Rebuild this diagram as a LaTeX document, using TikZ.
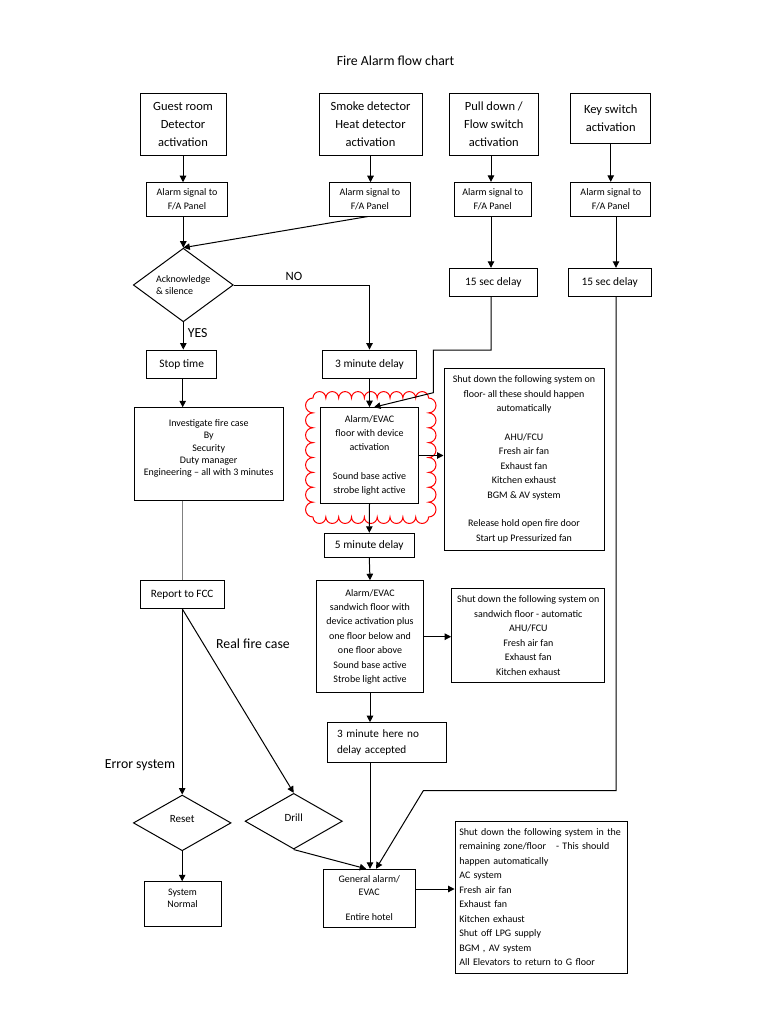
\documentclass[tikz,border=0pt]{standalone}
\usepackage{fontspec}
\setmainfont{Carlito}
\usetikzlibrary{arrows.meta,shapes.geometric}
\newcommand\fsTop{\fontsize{12.5}{18}\selectfont}
\newcommand\fsMid{\fontsize{11.4}{15.6}\selectfont}
\newcommand\fsBig{\fontsize{13.8}{16}\selectfont}
\tikzset{
  box/.style={draw, line width=1pt, inner sep=0pt, align=center},
  dia/.style={draw, diamond, line width=1pt, inner sep=0pt, align=center},
  arr/.style={line width=1pt, -{Triangle[length=6.5pt,width=6.5pt]}},
  ln/.style={line width=1pt},
  sm/.style={font=\fontsize{10}{#1}\selectfont},
  sm/.default=14.4
}
\begin{document}
\begin{tikzpicture}[x=1pt,y=1pt]
\fill[white] (0,0) rectangle (768,-1024);
\useasboundingbox (0,0) rectangle (768,-1024);

% title and labels
\node[font=\fsBig] (title) at (395.6,-60.7) {Fire Alarm flow chart};
\node[font=\fontsize{12.7}{15}\selectfont] (lno) at (294,-276) {NO};
\node[font=\fsBig] (lyes) at (197.7,-332.7) {YES};
\node[font=\fsBig] (lreal) at (253,-644) {Real fire case};
\node[font=\fsBig] (lerr) at (140,-765) {Error system};

% cloud
\draw[red, line width=1pt] (313,-398)
  \foreach \i in {1,...,9} { arc(180:0:6.42pt) }
  \foreach \i in {1,...,8} { arc(90:-90:7.44pt) }
  \foreach \i in {1,...,9} { arc(0:-180:6.42pt) }
  \foreach \i in {1,...,8} { arc(270:90:7.44pt) } -- cycle;

% top boxes
\node[box, font=\fsTop, minimum width=86pt, minimum height=62pt] (g1) at (183,-124.3) {Guest room\\Detector\\activation};
\node[box, font=\fsTop, minimum width=103pt, minimum height=62pt] (g2) at (370.5,-124.3) {Smoke detector\\Heat detector\\activation};
\node[box, font=\fsTop, minimum width=89pt, minimum height=61.7pt] (g3) at (493.8,-124.2) {Pull down /\\Flow switch\\activation};
\node[box, font=\fsTop, minimum width=80pt, minimum height=50pt] (g4) at (610.7,-118.3) {Key switch\\activation};

% alarm signal boxes
\node[box, sm=13.7, minimum width=80.6pt, minimum height=33.3pt] (a1) at (187,-199.4) {Alarm signal to\\F/A Panel};
\node[box, sm=13.7, minimum width=81.7pt, minimum height=33.3pt] (a2) at (369.9,-199.4) {Alarm signal to\\F/A Panel};
\node[box, sm=13.7, minimum width=76.7pt, minimum height=33.7pt] (a3) at (492.7,-199.2) {Alarm signal to\\F/A Panel};
\node[box, sm=13.7, minimum width=80.3pt, minimum height=33.7pt] (a4) at (610.8,-199.2) {Alarm signal to\\F/A Panel};

% decision
\node[dia, sm=12.3, align=left, minimum width=100pt, minimum height=56pt] (ack) at (183.3,-285) {Acknowledge\\\& silence};

% delays
\node[box, font=\fsMid, minimum width=88pt, minimum height=28.4pt] (d15a) at (493.3,-282.5) {15 sec delay};
\node[box, font=\fsMid, minimum width=82.7pt, minimum height=28.4pt] (d15b) at (609.7,-282.5) {15 sec delay};
\node[box, font=\fsMid, minimum width=70pt, minimum height=28.3pt] (stop) at (181.7,-364.2) {Stop time};
\node[box, font=\fsMid, minimum width=94.4pt, minimum height=28.3pt] (d3) at (369.5,-364.2) {3 minute delay};

% investigate
\node[box, sm=12.3, minimum width=149.3pt, minimum height=92.3pt] (inv) at (208.7,-453.9) {Investigate fire case\\By\\Security\\Duty manager\\Engineering -- all with 3 minutes\\\mbox{}};

% alarm/evac floor
\node[box, sm=14.3, minimum width=97.6pt, minimum height=95.6pt] (evac) at (369.5,-455.5) {Alarm/EVAC\\floor with device\\activation\\\mbox{}\\Sound base active\\strobe light active};

\node[box, sm=14.4, minimum width=160pt, minimum height=182.4pt] (sd1) at (524,-459.5) {Shut down the following system on\\floor- all these should happen\\automatically\\\mbox{}\\AHU/FCU\\Fresh air fan\\Exhaust fan\\Kitchen exhaust\\BGM \& AV system\\\mbox{}\\Release hold open fire door\\Start up Pressurized fan};

\node[box, font=\fsMid, minimum width=90pt, minimum height=24.4pt] (d5) at (369.3,-545.5) {5 minute delay};

\node[box, sm=14.4, minimum width=106.6pt, minimum height=112pt] (sw) at (370,-636.7) {Alarm/EVAC\\sandwich floor with\\device activation plus\\one floor below and\\one floor above\\Sound base active\\Strobe light active};

\node[box, sm=14.5, minimum width=153.3pt, minimum height=93.7pt] (sd2) at (528.3,-635.8) {Shut down the following system on\\sandwich floor - automatic\\AHU/FCU\\Fresh air fan\\Exhaust fan\\Kitchen exhaust};

\node[box, font=\fontsize{11.2}{14}\selectfont, minimum width=84.3pt, minimum height=27.6pt] (report) at (182.2,-594.5) {Report to FCC};

\node[box, font=\fontsize{11.2}{15.6}\selectfont, align=left, inner xsep=9.5pt, text width=100pt, minimum height=40pt] (d3h) at (387,-742.7) {3 minute here no\\delay accepted};

% bottom
\node[dia, font=\fontsize{11}{13}\selectfont, minimum width=97.7pt, minimum height=55.7pt] (reset) at (182.2,-822.9) {\raisebox{8pt}{Reset}};
\node[dia, font=\fontsize{11}{13}\selectfont, minimum width=97.3pt, minimum height=55.7pt] (drill) at (293.7,-821.2) {\raisebox{8pt}{Drill}};

\node[box, sm=12, minimum width=77pt, minimum height=44.3pt] (sysn) at (182.5,-903.9) {System\\Normal\\\mbox{}};

\node[box, sm=12.7, minimum width=91.7pt, minimum height=58pt] (gen) at (369.2,-898.3) {General alarm/\\EVAC\\\mbox{}\\Entire hotel};

\node[box, sm=14.5, align=left, inner xsep=4.3pt, text width=163.7pt, minimum height=152.3pt] (sd3) at (541.2,-897.2) {Shut down the following system in the\\remaining zone/floor\ \ \ - This should\\happen automatically\\AC system\\Fresh air fan\\Exhaust fan\\Kitchen exhaust\\Shut off LPG supply\\BGM , AV system\\All Elevators to return to G floor};

% connectors
\draw[arr] (g1.south) -- (g1.south |- a1.north);
\draw[arr] (g2.south) -- (g2.south |- a2.north);
\draw[arr] ([xshift=-2.8pt]g3.south) -- ([xshift=-2.8pt]g3.south |- a3.north);
\draw[arr] (g4.south) -- (g4.south |- a4.north);
\draw[arr] (a1.south -| ack.north) -- (ack.north);
\draw[arr] ([xshift=-2.2pt]a2.south) -- (ack.north);
\draw[arr] ([xshift=-1.7pt]a3.south) -- ([xshift=-1.7pt]a3.south |- d15a.north);
\draw[arr] ([xshift=5.2pt]a4.south) -- ([xshift=5.2pt]a4.south |- d15b.north);
\draw[arr] (ack.east) -| (d3.north);
\draw[arr] (ack.south) -- (ack.south |- stop.north);
\draw[arr] ([xshift=1pt]stop.south) -- ([xshift=1pt]stop.south |- inv.north);
\draw[arr] (d3.south) -- (evac.north);
\coordinate (k1) at (433.3,-350);
\coordinate (k2) at (433.3,-392.7);
\draw[arr] ([xshift=-2.3pt]d15a.south) |- (k1) -- (k2) -- ([xshift=4.5pt]evac.north);
\draw[arr] (evac.east) -- (evac.east -| sd1.west);
\draw[ln, gray] (inv.south -| report.north) -- (report.north);
\draw[arr] (evac.south) -- (d5.north);
\draw[arr] (d5.south) -- (sw.north);
\draw[arr] (sw.east) -- (sw.east -| sd2.west);
\draw[arr] (sw.south) -- (sw.south |- d3h.north);
\draw[arr] (d3h.south -| sw.south) -- (gen.north -| sw.south);
\draw[arr] (report.south) -- (report.south |- reset.north);
\draw[arr] (report.south) -- (drill.north);
\draw[arr] (drill.south) -- ([xshift=-3pt]gen.north);
\coordinate (k4) at (423.3,-790.7);
\draw[arr] ([xshift=6.3pt]d15b.south) |- (k4) -- ([xshift=6.8pt]gen.north);
\draw[arr] ([yshift=9.3pt]gen.east) -- ([yshift=9.3pt]gen.east -| sd3.west);
\draw[arr] (reset.south) -- (reset.south |- sysn.north);
\end{tikzpicture}
\end{document}
